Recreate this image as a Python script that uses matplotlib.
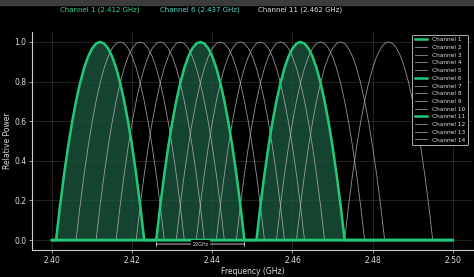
import numpy as np
import matplotlib
matplotlib.use("Agg")
import matplotlib.pyplot as plt
from matplotlib.patches import Rectangle

# channel data (GHz)
channels = list(range(1, 15))
centers = [2.412, 2.417, 2.422, 2.427, 2.432, 2.437, 2.442,
           2.447, 2.452, 2.457, 2.462, 2.467, 2.472, 2.484]
highlight = [1, 6, 11]
# relative power vs offset from centre, 0..11 MHz (mirrored for the lower side)
offset_mhz = [0, 1, 2, 3, 4, 5, 6, 7, 8, 9, 10, 11]
half_profile = [1.0, 0.992, 0.967, 0.926, 0.868, 0.793, 0.702, 0.595, 0.471, 0.331, 0.174, 0.0]
title_labels = ["Channel 1 (2.412 GHz)", "Channel 6 (2.437 GHz)", "Channel 11 (2.462 GHz)"]
title_colors = ["#3fd28a", "#4fd8c8", "#eedede"]
x_ticks = [2.40, 2.42, 2.44, 2.46, 2.48, 2.50]
y_ticks = [0.0, 0.2, 0.4, 0.6, 0.8, 1.0]

off = np.array([-o for o in offset_mhz[::-1]] + offset_mhz[1:]) / 1000.0
prof = np.array(half_profile[::-1] + half_profile[1:])

fig = plt.figure(figsize=(4.74, 2.77), dpi=100, facecolor="black")
fig.patches.append(Rectangle((0, 0.983), 1, 0.017, transform=fig.transFigure,
                             color="#3c3c3c", zorder=0))
ax = fig.add_axes([0.0675, 0.0975, 0.93, 0.787])
ax.set_facecolor("black")

green = "#22c878"
for ch, fc in zip(channels, centers):
    xs = np.concatenate([[2.40], fc + off, [2.50]])
    ys = np.concatenate([[0], prof, [0]])
    if ch in highlight:
        ax.fill_between(fc + off, prof, color="#1c5a40", alpha=0.75, zorder=2)
        ax.plot(xs, ys, color=green, lw=1.8, zorder=4, label="Channel %d" % ch)
    else:
        ax.plot(xs, ys, color="#b8b8b8", lw=0.6, alpha=0.8, zorder=3, label="Channel %d" % ch)

for lab, fc, col in zip(title_labels, [centers[0], centers[5], centers[10]], title_colors):
    ax.text(fc, 1.16, lab, color=col, fontsize=5, ha="center", va="center", clip_on=False)

# 22 MHz width marker
ax.annotate("", xy=(centers[5] - 0.011, -0.02), xytext=(centers[5] + 0.011, -0.02),
            arrowprops=dict(arrowstyle="|-|", color="#dddddd", lw=0.6,
                            mutation_scale=1.5, shrinkA=0, shrinkB=0))
ax.text(centers[5], -0.02, "22GHz", color="#dddddd", fontsize=3.5, ha="center",
        va="center", zorder=6, bbox=dict(facecolor="black", edgecolor="none", pad=1))

ax.set_xlim(2.395, 2.505)
ax.set_ylim(-0.05, 1.05)
ax.set_xticks(x_ticks)
ax.set_yticks(y_ticks)
ax.set_xticklabels(["%.2f" % t for t in x_ticks])
ax.set_yticklabels(["%.1f" % t for t in y_ticks])
ax.grid(True, color="#444444", lw=0.5, alpha=0.7)
ax.set_axisbelow(True)
for s in ["top", "right"]:
    ax.spines[s].set_visible(False)
for s in ["left", "bottom"]:
    ax.spines[s].set_color("#cccccc")
    ax.spines[s].set_linewidth(0.8)
ax.tick_params(colors="#dddddd", labelsize=5.5, length=2, width=0.5, pad=2)
ax.set_xlabel("Frequency (GHz)", color="#dddddd", fontsize=5.5, labelpad=2)
ax.set_ylabel("Relative Power", color="#dddddd", fontsize=5.5, labelpad=1.5)

leg = ax.legend(loc="upper right", bbox_to_anchor=(0.995, 1.0), fontsize=4.2,
                facecolor="black", edgecolor="#cccccc", labelcolor="#dddddd",
                handlelength=2.2, labelspacing=0.45, borderpad=0.4, framealpha=1)
leg.get_frame().set_linewidth(0.6)

fig.savefig("out.png", dpi=100, facecolor="black")
